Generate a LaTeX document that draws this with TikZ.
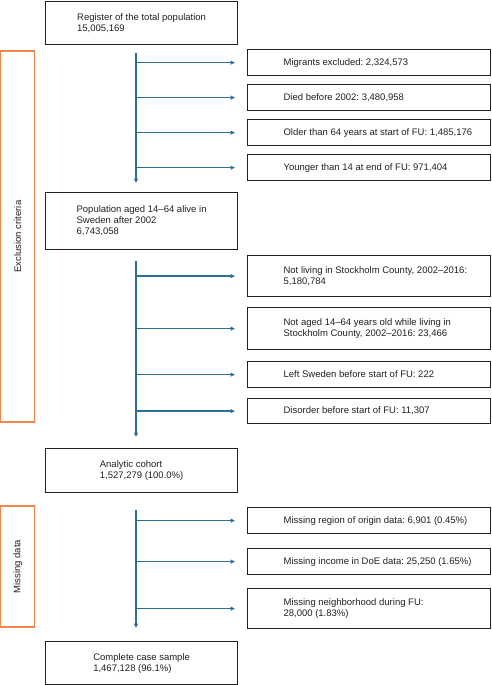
\documentclass[tikz,border=0pt]{standalone}
\usepackage{fontspec}
\setmainfont{Liberation Sans}
\usetikzlibrary{arrows.meta}
\definecolor{flowblue}{RGB}{46,111,149}
\definecolor{critorange}{RGB}{240,134,74}
\definecolor{boxline}{RGB}{35,31,32}
\frenchspacing
\newcommand\sidetext[1]{\hspace*{36pt}\parbox{203pt}{\raggedright #1}\hspace*{4pt}}
\begin{document}
\begin{tikzpicture}[x=1pt,y=-1pt,
  font=\fontsize{9.5}{11}\selectfont\frenchspacing,
  mainbox/.style={draw=boxline, text=boxline, line width=1.2pt, minimum width=192pt,
    anchor=north west, align=left, inner sep=0pt},
  sidebox/.style={draw=boxline, text=boxline, line width=1.2pt, anchor=north west,
    inner sep=0pt, minimum width=243pt},
  critbox/.style={draw=critorange, text=boxline, line width=1.2pt, rotate=90,
    minimum height=34pt, inner sep=0pt},
  flow/.style={draw=flowblue, line width=1.25pt,
    -{Triangle[length=4.5pt,width=4pt]}}]
\useasboundingbox (0,0) rectangle (491,685);
\coordinate (tx) at (136,0);
% main column
\node[mainbox, minimum height=43pt] (top) at (45,1)
  {Register of the total population\\15,005,169};
\node[mainbox, minimum height=57pt] (pop) at (45,192)
  {Population aged 14--64 alive in\\Sweden after 2002\\6,743,058};
\node[mainbox, minimum height=44pt] (cohort) at (45,448)
  {Analytic cohort\\1,527,279 (100.0\%)};
\node[mainbox, minimum height=43pt] (complete) at (45,641)
  {Complete case sample\\1,467,128 (96.1\%)};
% side boxes
\node[sidebox, minimum height=26pt] (r1) at (247,49) {\sidetext{Migrants excluded: 2,324,573}};
\node[sidebox, minimum height=26pt] (r2) at (247,84) {\sidetext{Died before 2002: 3,480,958}};
\node[sidebox, minimum height=26pt] (r3) at (247,119) {\sidetext{Older than 64 years at start of FU: 1,485,176}};
\node[sidebox, minimum height=26pt] (r4) at (247,154) {\sidetext{Younger than 14 at end of FU: 971,404}};
\node[sidebox, minimum height=41pt] (r5) at (247,255) {\sidetext{Not living in Stockholm County, 2002--2016:\\5,180,784}};
\node[sidebox, minimum height=42pt] (r6) at (247,307) {\sidetext{Not aged 14--64 years old while living in\\Stockholm County, 2002--2016: 23,466}};
\node[sidebox, minimum height=26pt] (r7) at (247,361) {\sidetext{Left Sweden before start of FU: 222}};
\node[sidebox, minimum height=25pt] (r8) at (247,398) {\sidetext{Disorder before start of FU: 11,307}};
\node[sidebox, minimum height=26pt] (r9) at (247,507) {\sidetext{Missing region of origin data: 6,901 (0.45\%)}};
\node[sidebox, minimum height=26pt] (r10) at (247,548) {\sidetext{Missing income in DoE data: 25,250 (1.65\%)}};
\node[sidebox, minimum height=40pt] (r11) at (247,588) {\sidetext{Missing neighborhood during FU:\\28,000 (1.83\%)}};
% side labels
\node[critbox, minimum width=371pt] (excl) at (17.8,236.5) {Exclusion criteria};
\node[critbox, minimum width=121pt] (miss) at (17.8,566.5) {Missing data};
% trunks
\draw[flow, shorten <=8pt, shorten >=9pt] (top.south -| tx) -- (pop.north -| tx);
\draw[flow, shorten <=11pt, shorten >=11pt] (pop.south -| tx) -- (cohort.north -| tx);
\draw[flow, shorten <=17pt, shorten >=13pt] (cohort.south -| tx) -- (complete.north -| tx);
% branches
\foreach \b in {r1,r2,r3,r4,r5,r6,r7,r8,r9,r10,r11}
  \draw[flow, shorten >=12pt] (\b.west -| tx) -- (\b.west);
\end{tikzpicture}
\end{document}
